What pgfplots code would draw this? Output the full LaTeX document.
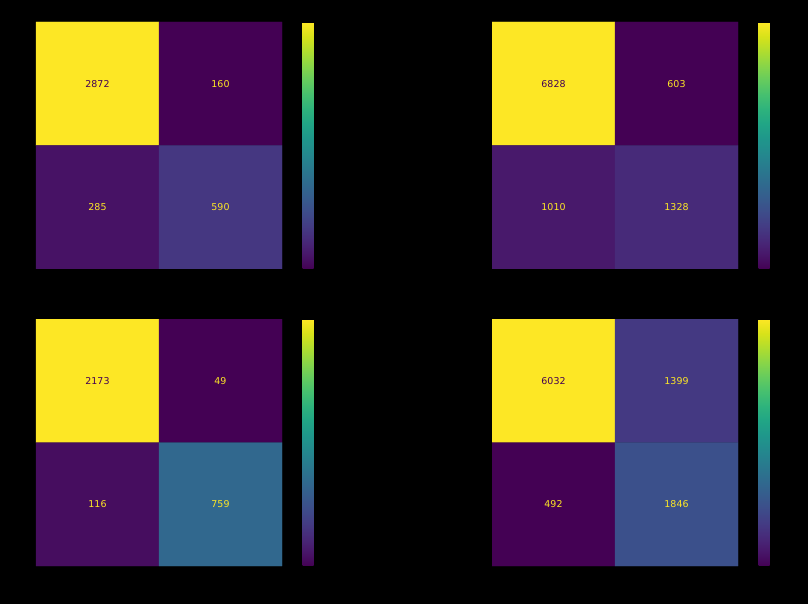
\documentclass[border=0pt]{standalone}
\usepackage{fontspec}
\setmainfont{DejaVu Sans}
\usepackage{pgfplots}
\pgfplotsset{compat=1.18}
\definecolor{vyellow}{HTML}{FDE725}
\definecolor{vpurple}{HTML}{440154}

\pgfplotsset{
  cm/.style={
    scale only axis, width=246bp, height=247bp,
    anchor=south west,
    xmin=-0.5, xmax=1.5, ymin=-0.5, ymax=1.5,
    y dir=reverse, enlargelimits=false,
    xtick=\empty, ytick=\empty,
    axis line style={black},
    colormap name=viridis,
    colorbar,
    colorbar style={
      at={(parent axis.north east)}, anchor=north west, xshift=12bp,
      width=11bp, ytick=\empty, axis line style={draw=none},
    },
  },
  lab/.style={draw=none, nodes near coords, point meta=explicit symbolic,
    nodes near coords style={anchor=center, font=\fontsize{9.5}{10}\selectfont, text=#1}},
}

\begin{document}
\begin{tikzpicture}
\fill[black] (0,0) rectangle (808bp,604bp);
\useasboundingbox (0,0) rectangle (808bp,604bp);

% top left
\begin{axis}[cm, at={(36bp,335bp)}, point meta min=160, point meta max=2872]
\addplot[matrix plot*, mesh/cols=2, point meta=explicit]
  coordinates {(0,0) [2872] (1,0) [160] (0,1) [285] (1,1) [590]};
\addplot[lab=vpurple] coordinates {(0,0) [2872]};
\addplot[lab=vyellow] coordinates {(1,0) [160] (0,1) [285] (1,1) [590]};
\end{axis}

% top right
\begin{axis}[cm, at={(492bp,335bp)}, point meta min=603, point meta max=6828]
\addplot[matrix plot*, mesh/cols=2, point meta=explicit]
  coordinates {(0,0) [6828] (1,0) [603] (0,1) [1010] (1,1) [1328]};
\addplot[lab=vpurple] coordinates {(0,0) [6828]};
\addplot[lab=vyellow] coordinates {(1,0) [603] (0,1) [1010] (1,1) [1328]};
\end{axis}

% bottom left
\begin{axis}[cm, at={(36bp,38bp)}, point meta min=49, point meta max=2173]
\addplot[matrix plot*, mesh/cols=2, point meta=explicit]
  coordinates {(0,0) [2173] (1,0) [49] (0,1) [116] (1,1) [759]};
\addplot[lab=vpurple] coordinates {(0,0) [2173]};
\addplot[lab=vyellow] coordinates {(1,0) [49] (0,1) [116] (1,1) [759]};
\end{axis}

% bottom right
\begin{axis}[cm, at={(492bp,38bp)}, point meta min=492, point meta max=6032]
\addplot[matrix plot*, mesh/cols=2, point meta=explicit]
  coordinates {(0,0) [6032] (1,0) [1399] (0,1) [492] (1,1) [1846]};
\addplot[lab=vpurple] coordinates {(0,0) [6032]};
\addplot[lab=vyellow] coordinates {(1,0) [1399] (0,1) [492] (1,1) [1846]};
\end{axis}
\end{tikzpicture}
\end{document}
